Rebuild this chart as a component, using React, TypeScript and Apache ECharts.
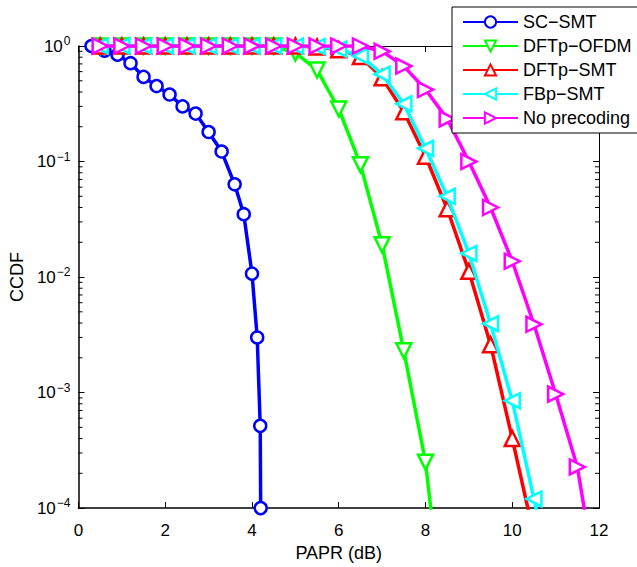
import React, { useEffect, useRef } from "react";
import * as echarts from "echarts";

const FONT = "'Liberation Sans', Arial, Helvetica, sans-serif";

const xTickMin = 0;
const xTickMax = 12;
const xTickInterval = 2;
const yMin = 1e-4;
const yMax = 1;

const seriesNames = ["SC\u2212SMT", "DFTp\u2212OFDM", "DFTp\u2212SMT", "FBp\u2212SMT", "No precoding"];
const seriesColors = ["#0000ff", "#00ff00", "#ff0000", "#00ffff", "#ff00ff"];

const scX = [0.3, 0.6, 0.9, 1.2, 1.5, 1.8, 2.1, 2.4, 2.7, 3.0, 3.3, 3.6, 3.81, 4.0, 4.12, 4.19, 4.2];
const scY = [1.0, 0.91, 0.84, 0.71, 0.54, 0.45, 0.38, 0.30, 0.26, 0.18, 0.122, 0.0635, 0.035, 0.0107, 0.003, 5.15e-4, 1e-4];

const ofdmX = [0.5, 1, 1.5, 2, 2.5, 3, 3.5, 4, 4.5, 5, 5.5, 6, 6.5, 7, 7.5, 8, 8.5];
const ofdmY = [1, 1, 1, 1, 1, 1, 1, 1, 1, 0.87, 0.62, 0.285, 0.094, 0.019, 2.3e-3, 2.5e-4, 5.6e-6];

const dftX = [0.5, 1, 1.5, 2, 2.5, 3, 3.5, 4, 4.5, 5, 5.5, 6, 6.5, 7, 7.5, 8, 8.5, 9, 9.5, 10, 10.5];
const dftY = [1, 1, 1, 1, 1, 1, 1, 1, 1, 1, 0.98, 0.93, 0.81, 0.53, 0.27, 0.111, 0.039, 0.0112, 2.6e-3, 4.0e-4, 5.8e-5];

const fbX = [0.5, 1, 1.5, 2, 2.5, 3, 3.5, 4, 4.5, 5, 5.5, 6, 6.5, 7, 7.5, 8, 8.5, 9, 9.5, 10, 10.5, 11];
const fbY = [1, 1, 1, 1, 1, 1, 1, 1, 1, 1, 0.99, 0.94, 0.82, 0.57, 0.316, 0.13, 0.05, 0.016, 3.95e-3, 8.5e-4, 1.2e-4, 1.7e-5];

const npX = [0.5, 1, 1.5, 2, 2.5, 3, 3.5, 4, 4.5, 5, 5.5, 6, 6.5, 7, 7.5, 8, 8.5, 9, 9.5, 10, 10.5, 11, 11.5, 12];
const npY = [1, 1, 1, 1, 1, 1, 1, 1, 1, 1, 1, 1, 1, 0.9, 0.67, 0.42, 0.234, 0.1, 0.04, 0.0137, 0.0039, 9.7e-4, 2.27e-4, 1.7e-5];

const minorMantissas = [2, 3, 4, 5, 6, 7, 8, 9];
const minorDecades = [-4, -3, -2, -1];

const seriesX = [scX, ofdmX, dftX, fbX, npX];
const seriesY = [scY, ofdmY, dftY, fbY, npY];
const seriesSymbols = ["circle", "triangle", "triangle", "triangle", "triangle"];
const seriesRotate = [0, 180, 0, 90, -90];

export default function App() {
  const ref = useRef<HTMLDivElement>(null);
  useEffect(() => {
    if (!ref.current) return;
    const chart = echarts.init(ref.current, null, { renderer: "svg" });

    const minorData: number[][] = [];
    minorDecades.forEach((d) => minorMantissas.forEach((m) => minorData.push([0, m * Math.pow(10, d)])));

    const lineSeries = seriesNames.map((name, i) => ({
      name,
      type: "line",
      data: seriesX[i].map((x, j) => [x, seriesY[i][j]]),
      symbol: seriesSymbols[i],
      symbolSize: i === 0 ? 12 : 15,
      symbolRotate: seriesRotate[i],
      showAllSymbol: true,
      clip: true,
      lineStyle: { color: seriesColors[i], width: 3.5 },
      itemStyle: { color: "#ffffff", borderColor: seriesColors[i], borderWidth: 2.5 },
      emphasis: { disabled: true },
      z: 3 + i,
    }));

    const tickStyle = { lineStyle: { color: "#000", width: 1 } };

    const option: any = {
      animation: false,
      backgroundColor: "#ffffff",
      textStyle: { fontFamily: FONT },
      grid: { left: 76, top: 46, width: 523, height: 470, containLabel: false },
      legend: {
        data: seriesNames,
        orient: "vertical",
        left: 452,
        top: 7,
        backgroundColor: "#ffffff",
        borderColor: "#000000",
        borderWidth: 1,
        borderRadius: 0,
        padding: [6, 10, 6, 10],
        itemWidth: 55,
        itemHeight: 14,
        itemGap: 6,
        selectedMode: false,
        textStyle: { fontSize: 18, fontFamily: FONT, color: "#000", lineHeight: 18 },
        z: 20,
      },
      xAxis: [
        {
          type: "value",
          min: xTickMin,
          max: xTickMax,
          interval: xTickInterval,
          position: "bottom",
          name: "PAPR (dB)",
          nameLocation: "middle",
          nameGap: 28,
          nameTextStyle: { fontSize: 18, fontFamily: FONT, color: "#000" },
          axisLine: { show: true, onZero: false, lineStyle: { color: "#000", width: 1.5 } },
          axisTick: { show: true, inside: true, length: 6, ...tickStyle },
          axisLabel: { fontSize: 17, fontFamily: FONT, color: "#000", margin: 14 },
          splitLine: { show: false },
        },
        {
          type: "value",
          min: xTickMin,
          max: xTickMax,
          interval: xTickInterval,
          position: "top",
          axisLine: { show: true, onZero: false, lineStyle: { color: "#000", width: 1 } },
          axisTick: { show: true, inside: true, length: 6, ...tickStyle },
          axisLabel: { show: false },
          splitLine: { show: false },
        },
      ],
      yAxis: [
        {
          type: "log",
          logBase: 10,
          min: yMin,
          max: yMax,
          splitNumber: 4,
          position: "left",
          name: "CCDF",
          nameLocation: "middle",
          nameGap: 37,
          nameTextStyle: { fontSize: 18, fontFamily: FONT, color: "#000" },
          axisLine: { show: true, onZero: false, lineStyle: { color: "#000", width: 1.5 } },
          axisTick: { show: true, inside: true, length: 6, ...tickStyle },
          axisLabel: {
            margin: 8,
            color: "#000",
            fontFamily: FONT,
            formatter: (v: number) => {
              const e = Math.round(Math.log10(v));
              const s = e === 0 ? "0" : "\u2212" + String(-e);
              return "{b|10}{s|" + s + "}";
            },
            rich: {
              b: { fontSize: 17, fontFamily: FONT, color: "#000" },
              s: { fontSize: 12, fontFamily: FONT, color: "#000", padding: [0, 0, 10, 1] },
            },
          },
          splitLine: { show: false },
        },
        {
          type: "log",
          logBase: 10,
          min: yMin,
          max: yMax,
          splitNumber: 4,
          position: "right",
          axisLine: { show: true, onZero: false, lineStyle: { color: "#000", width: 1 } },
          axisTick: { show: true, inside: true, length: 6, ...tickStyle },
          axisLabel: { show: false },
          splitLine: { show: false },
        },
      ],
      series: [
        {
          type: "custom",
          name: "minorTicks",
          coordinateSystem: "cartesian2d",
          xAxisIndex: 0,
          yAxisIndex: 0,
          silent: true,
          encode: { x: 0, y: 1 },
          data: minorData,
          z: 1,
          renderItem: (params: any, api: any) => {
            const v = api.value(1);
            const pL = api.coord([xTickMin, v]);
            const pR = api.coord([xTickMax, v]);
            return {
              type: "group",
              children: [
                { type: "line", shape: { x1: pL[0], y1: pL[1], x2: pL[0] + 4, y2: pL[1] }, style: { stroke: "#000", lineWidth: 1 } },
                { type: "line", shape: { x1: pR[0] - 4, y1: pR[1], x2: pR[0], y2: pR[1] }, style: { stroke: "#000", lineWidth: 1 } },
              ],
            };
          },
        },
        ...lineSeries,
      ],
    };

    chart.setOption(option);
    return () => chart.dispose();
  }, []);

  return <div ref={ref} style={{ position: "fixed", left: 0, top: 0, width: 637, height: 567, background: "#fff" }} />;
}
